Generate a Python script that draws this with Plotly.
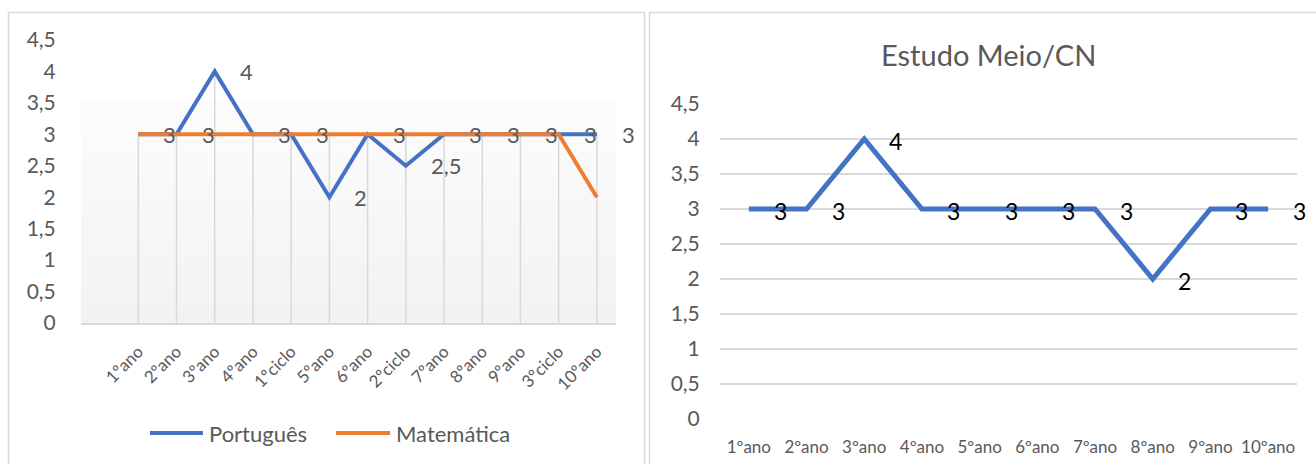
import plotly.graph_objects as go

W, H = 1316, 464

# ---------------- data ----------------
cats_left = ["1ºano", "2ºano", "3ºano", "4ºano", "1ºciclo", "5ºano", "6ºano",
             "2ºciclo", "7ºano", "8ºano", "9ºano", "3ºciclo", "10ºano"]
portugues = [3, 3, 4, 3, 3, 2, 3, 2.5, 3, 3, 3, 3, 3]
matematica = [3, 3, 3, 3, 3, 3, 3, 3, 3, 3, 3, 3, 2]
name_pt = "Português"
name_mat = "Matemática"

cats_right = ["1ºano", "2ºano", "3ºano", "4ºano", "5ºano", "6ºano", "7ºano",
              "8ºano", "9ºano", "10ºano"]
estudo_meio = [3, 3, 4, 3, 3, 3, 3, 2, 3, 3]
title_right = "Estudo Meio/CN"

yticks = [0, 0.5, 1, 1.5, 2, 2.5, 3, 3.5, 4, 4.5]

BLUE = "#4472C4"
ORANGE = "#ED7D31"
GRAY_TXT = "#595959"
GRID = "#d9d9d9"
FONT = "Lato"


def px(x):
    return x / W


def py(y):
    return 1 - y / H


def fmt(v):
    return ("%g" % v).replace(".", ",")


fig = go.Figure()

# drop lines (left chart)
dx, dy = [], []
for c, a, b in zip(cats_left, portugues, matematica):
    dx += [c, c, None]
    dy += [0, max(a, b), None]
fig.add_trace(go.Scatter(x=dx, y=dy, mode="lines", line=dict(color=GRID, width=1.5),
                         showlegend=False, hoverinfo="skip", xaxis="x", yaxis="y"))

fig.add_trace(go.Scatter(x=cats_left, y=portugues, name=name_pt, mode="lines",
                         line=dict(color=BLUE, width=4), showlegend=False,
                         xaxis="x", yaxis="y"))
fig.add_trace(go.Scatter(x=cats_left, y=matematica, name=name_mat, mode="lines",
                         line=dict(color=ORANGE, width=4), showlegend=False,
                         xaxis="x", yaxis="y"))

fig.add_trace(go.Scatter(x=cats_right, y=estudo_meio, name=title_right, mode="lines",
                         line=dict(color=BLUE, width=5), showlegend=False,
                         xaxis="x2", yaxis="y2"))

annotations = []
for c, v in zip(cats_left, portugues):
    annotations.append(dict(x=c, y=v, xref="x", yref="y", text=fmt(v), showarrow=False,
                            xanchor="left", yanchor="middle", xshift=23,
                            font=dict(family=FONT, size=22, color=GRAY_TXT)))
for c, v in zip(cats_right, estudo_meio):
    annotations.append(dict(x=c, y=v, xref="x2", yref="y2", text=fmt(v), showarrow=False,
                            xanchor="left", yanchor="middle", xshift=23, yshift=-2,
                            font=dict(family=FONT, size=23, color="#000000")))

annotations.append(dict(x=px(988), y=py(55), xref="paper", yref="paper", text=title_right,
                        showarrow=False, xanchor="center", yanchor="middle",
                        font=dict(family=FONT, size=29, color=GRAY_TXT)))

# manual legend
shapes = []
leg = [(name_pt, BLUE, 150, 203, 207), (name_mat, ORANGE, 336, 390, 394)]
for name, col, x0, x1, tx in leg:
    shapes.append(dict(type="line", xref="paper", yref="paper", x0=px(x0), x1=px(x1),
                       y0=py(433), y1=py(433), line=dict(color=col, width=4)))
    annotations.append(dict(x=px(tx), y=py(433), xref="paper", yref="paper", text=name,
                            showarrow=False, xanchor="left", yanchor="middle",
                            font=dict(family=FONT, size=22, color=GRAY_TXT)))

# gradient background in left plot area
N = 30
top_val = 3.55
for i in range(N):
    y0 = top_val * i / N
    y1 = top_val * (i + 1) / N
    g = int(round(242 + (252 - 242) * i / (N - 1)))
    shapes.append(dict(type="rect", xref="x domain", yref="y", x0=0, x1=1, y0=y0, y1=y1,
                       fillcolor="rgb(%d,%d,%d)" % (g, g, g), line=dict(width=0),
                       layer="below"))


def P(x, y):
    return "%.5f,%.5f" % (px(x), py(y))


# panel borders (open paths, kept inside the figure)
shapes.append(dict(type="path", xref="paper", yref="paper",
                   path="M%s L%s L%s L%s" % (P(8.5, 464), P(8.5, 12.5), P(644.5, 12.5), P(644.5, 464)),
                   line=dict(color=GRID, width=1.5)))
shapes.append(dict(type="path", xref="paper", yref="paper",
                   path="M%s L%s L%s" % (P(649.5, 464), P(649.5, 12.5), P(1316, 12.5)),
                   line=dict(color=GRID, width=1.5)))

fig.update_layout(
    width=W, height=H,
    margin=dict(l=0, r=0, t=0, b=0, autoexpand=False),
    paper_bgcolor="white", plot_bgcolor="rgba(0,0,0,0)",
    separators=",.",
    showlegend=False,
    annotations=annotations,
    shapes=shapes,
    xaxis=dict(domain=[px(81), px(616)], anchor="y", type="category", automargin=False,
               categoryarray=cats_left, range=[-1.5, 12.5],
               showgrid=False, zeroline=False, showline=True, linecolor=GRID, linewidth=2,
               tickangle=-45, ticks="outside", ticklen=10, tickcolor="rgba(0,0,0,0)",
               tickfont=dict(family=FONT, size=17, color=GRAY_TXT)),
    yaxis=dict(domain=[py(323), py(40)], anchor="x", range=[0, 4.5], automargin=False,
               tickvals=yticks, showgrid=False, zeroline=False, showline=False,
               ticks="outside", ticklen=20, tickcolor="rgba(0,0,0,0)",
               tickfont=dict(family=FONT, size=21, color=GRAY_TXT)),
    xaxis2=dict(domain=[px(720), px(1297)], anchor="y2", type="category", automargin=False,
                categoryarray=cats_right, range=[-0.5, 9.5],
                showgrid=False, zeroline=False, showline=False,
                ticks="outside", ticklen=13, tickcolor="rgba(0,0,0,0)",
                tickfont=dict(family=FONT, size=17, color=GRAY_TXT)),
    yaxis2=dict(domain=[py(419), py(104)], anchor="x2", range=[0, 4.5], automargin=False,
                tickvals=yticks, showgrid=True, gridcolor=GRID, gridwidth=1.5,
                zeroline=False, showline=False,
                ticks="outside", ticklen=15, tickcolor="rgba(0,0,0,0)",
                tickfont=dict(family=FONT, size=21, color=GRAY_TXT)),
)

fig.write_html("out.html")
